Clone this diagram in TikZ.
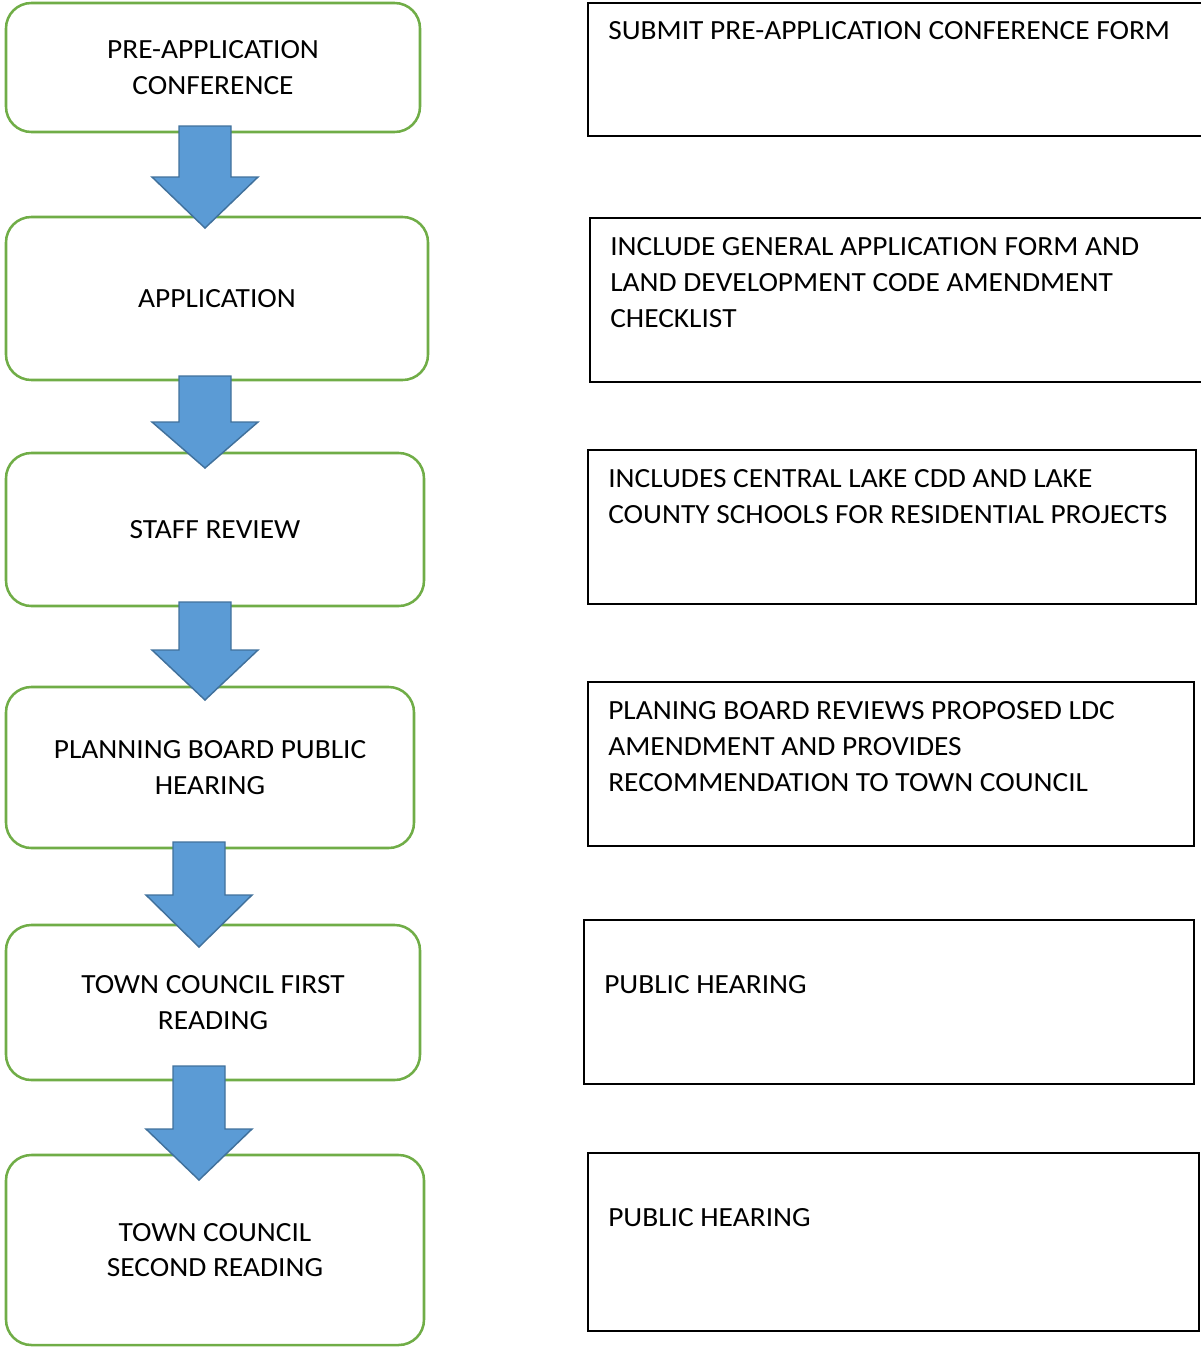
\documentclass[tikz,border=0pt]{standalone}
\usepackage{fontspec}
\setmainfont{Carlito}[FakeStretch=1.06]
\definecolor{stepgreen}{HTML}{70AD47}
\definecolor{arrowblue}{HTML}{5B9BD5}
\definecolor{arrowedge}{HTML}{41719C}
\newcommand\blockarrow[5]{%
  \draw[flow] (#2-26,#3) coordinate (#1) -- (#2+26,#3) -- (#2+26,#4) -- (#2+53,#4)
    -- (#2,#5) -- (#2-53,#4) -- (#2-26,#4) -- cycle;}
\begin{document}
\begin{tikzpicture}[x=0.75pt,y=-0.75pt,
  stepbox/.style={draw=stepgreen, line width=1.9pt, rounded corners=19pt,
    inner sep=0pt, align=center, font=\fontsize{20.8pt}{26.4pt}\selectfont},
  notebox/.style={draw=black, line width=1.3pt, inner sep=0pt},
  note/.style={inner sep=0pt, align=left, anchor=west,
    font=\fontsize{20.8pt}{27pt}\selectfont},
  flow/.style={fill=arrowblue, draw=arrowedge, line width=1.1pt, line join=miter}]
\useasboundingbox (0,0) rectangle (1201,1347);

% left step boxes
\node[stepbox, minimum width=310.5pt, minimum height=96.75pt] (s1) at (213,67.5) {PRE-APPLICATION\\CONFERENCE};
\node[stepbox, minimum width=316.5pt, minimum height=122.25pt] (s2) at (217,298.5) {APPLICATION};
\node[stepbox, minimum width=313.5pt, minimum height=114.75pt] (s3) at (215,529.5) {STAFF REVIEW};
\node[stepbox, minimum width=306pt, minimum height=120.75pt] (s4) at (210,767.5) {PLANNING BOARD PUBLIC\\HEARING};
\node[stepbox, minimum width=310.5pt, minimum height=116.25pt] (s5) at (213,1002.5) {TOWN COUNCIL FIRST\\READING};
\node[stepbox, minimum width=313.5pt, minimum height=142.5pt] (s6) at (215,1250) {TOWN COUNCIL\\SECOND READING};

% block arrows between steps
\blockarrow{a1}{205}{126}{177}{228}
\blockarrow{a2}{205}{376}{422}{468}
\blockarrow{a3}{205}{602}{650}{700}
\blockarrow{a4}{199}{842}{895}{947}
\blockarrow{a5}{199}{1066}{1129}{1180}

% right note boxes
\node[notebox, minimum width=462pt, minimum height=99.75pt] (r1) at (896,69.5) {};
\node[notebox, minimum width=460.5pt, minimum height=123pt] (r2) at (897,300) {};
\node[notebox, minimum width=456pt, minimum height=115.5pt] (r3) at (892,527) {};
\node[notebox, minimum width=454.5pt, minimum height=123pt] (r4) at (891,764) {};
\node[notebox, minimum width=457.5pt, minimum height=123pt] (r5) at (889,1002) {};
\node[notebox, minimum width=458.25pt, minimum height=133.5pt] (r6) at (893.5,1242) {};

\node[note] (t1) at (608,31) {SUBMIT PRE-APPLICATION CONFERENCE FORM};
\node[note] (t2) at (610,283) {INCLUDE GENERAL APPLICATION FORM AND\\LAND DEVELOPMENT CODE AMENDMENT\\CHECKLIST};
\node[note] (t3) at (608,497) {INCLUDES CENTRAL LAKE CDD AND LAKE\\COUNTY SCHOOLS FOR RESIDENTIAL PROJECTS};
\node[note] (t4) at (608,747) {PLANING BOARD REVIEWS PROPOSED LDC\\AMENDMENT AND PROVIDES\\RECOMMENDATION TO TOWN COUNCIL};
\node[note] (t5) at (604,985) {PUBLIC HEARING};
\node[note] (t6) at (608,1218) {PUBLIC HEARING};
\end{tikzpicture}
\end{document}
